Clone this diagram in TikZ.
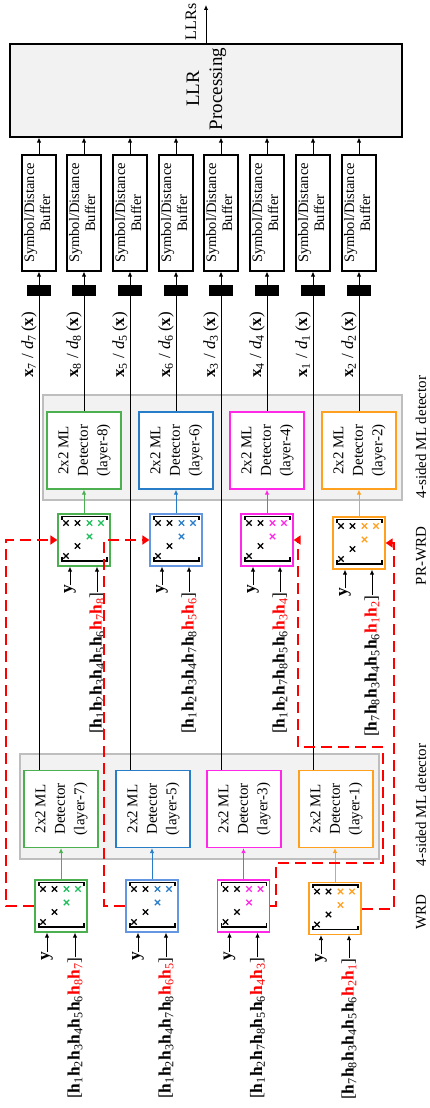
\documentclass[tikz,border=0pt]{standalone}
\usepackage{fontspec}
\setmainfont{Liberation Serif}
\usetikzlibrary{arrows.meta}
\definecolor{cgreen}{RGB}{76,175,80}
\definecolor{cgreenx}{RGB}{30,190,90}
\definecolor{cblue}{RGB}{40,125,200}
\definecolor{cbluel}{RGB}{100,150,225}
\definecolor{cmag}{RGB}{255,40,230}
\definecolor{corange}{RGB}{255,160,30}
\definecolor{cgray}{RGB}{242,242,242}
\definecolor{cgrayd}{RGB}{190,190,190}
\newcommand\hh[1]{\textbf{h}\textsubscript{#1}}
\newcommand\hr[1]{\textcolor{red}{\textbf{h}\textsubscript{#1}}}
\newcommand\xlab[1]{\textbf{x}\textsubscript{#1} / \textit{d}\textsubscript{#1}\,(\textbf{x})}
\newcommand\xmark[3]{\draw[#3, line width=1.1pt] (#1,#2) ++(-2.7,-2.7) -- ++(5.4,5.4) ++(0,-5.4) -- ++(-5.4,5.4);}
\newcommand\drawmat[2]{%
 \begin{scope}[shift={(#1.center)}]
  \draw[line width=1.1pt] (-22,-20.5) -- (-22,-23.5) -- (23,-23.5) -- (23,-20.5);
  \draw[line width=1.1pt] (-22,17) -- (-22,21) -- (23,21) -- (23,17);
  \xmark{-18}{-17}{black}\xmark{-6.5}{-17}{black}\xmark{5.5}{-17}{#2}\xmark{17}{-17}{#2}
  \xmark{5.5}{-3.5}{#2}\xmark{-6.5}{6}{black}\xmark{-18}{16}{black}
 \end{scope}}
\newcommand\dettext[1]{\rotatebox{90}{\begin{tabular}{@{}c@{}}2x2 ML\\Detector\\(layer-#1)\end{tabular}}}
\newcommand\buftext{\rotatebox{90}{\begin{tabular}{@{}c@{}}Symbol/Distance\\Buffer\end{tabular}}}
\begin{document}
\begin{tikzpicture}[x=1pt,y=-1pt,
  arr/.style={-{Latex[length=5pt,width=4.5pt]}, line width=0.9pt},
  ln/.style={line width=0.9pt},
  buf/.style={draw, line width=1.1pt, fill=white, minimum width=34pt, minimum height=116pt, inner sep=0pt, font=\fontsize{14.5}{16}\selectfont},
  blk/.style={fill=black, minimum width=24pt, minimum height=11pt, inner sep=0pt},
  det/.style={draw, line width=1.3pt, fill=white, minimum width=74pt, minimum height=77pt, inner sep=0pt, font=\fontsize{15}{19.5}\selectfont},
  gbox/.style={draw=cgrayd, fill=cgray, line width=1.2pt, minimum width=359pt, minimum height=105pt, inner sep=0pt},
  mat/.style={draw, line width=1.3pt, fill=white, minimum size=52pt, inner sep=0pt},
  rl/.style={rotate=90, inner sep=0pt},
  hlab/.style={rl, anchor=east, font=\fontsize{17.4}{20}\selectfont},
  sidelab/.style={rl, font=\fontsize{15}{18}\selectfont},
  reddash/.style={draw=red, line width=2pt, dash pattern=on 11pt off 6pt},
  redarr/.style={reddash, -{Triangle[length=7pt,width=9pt]}},
]
\useasboundingbox (0,0) rectangle (429,1108);

% LLR processing
\node[draw, line width=1.1pt, fill=cgray, minimum width=392pt, minimum height=93pt, inner sep=0pt] (llr) at (206,90.5) {};
\node[rl, font=\fontsize{19}{23}\selectfont] (llrt) at (206,89) {\begin{tabular}{@{}c@{}}LLR\\Processing\end{tabular}};
\coordinate (llrout) at (206,5);
\draw[arr] (llr.north) -- (llrout);
\node[rl, font=\fontsize{16}{18}\selectfont] (llrs) at (191,22) {LLRs};

% buffers and blocks
\foreach \i/\x/\s in {1/39/7,2/84/8,3/130/5,4/176/6,5/221/3,6/267/4,7/313/1,8/359/2}{
  \node[buf] (buf\i) at (\x,213) {\buftext};
  \node[blk] (blk\i) at (\x,290.5) {};
  \draw[arr] (blk\i.north) -- (buf\i.south);
  \draw[arr] (buf\i.north) -- (buf\i.north |- llr.south);
  \node[rl, anchor=south, font=\fontsize{17}{19}\selectfont] (xl\i) at (\x-2,345) {\xlab{\s}};
}

% gray boxes
\node[gbox] (ug) at (222.5,447.5) {};
\node[gbox] (lg) at (199.5,806.5) {};

% upper detectors
\node[det, draw=cgreen] (ud8) at (84,450.5) {\dettext{8}};
\node[det, draw=cblue] (ud6) at (176,450.5) {\dettext{6}};
\node[det, draw=cmag] (ud4) at (267,450.5) {\dettext{4}};
\node[det, draw=corange] (ud2) at (359,450.5) {\dettext{2}};
% lower detectors
\node[det, draw=cgreen] (ld7) at (61,809) {\dettext{7}};
\node[det, draw=cblue] (ld5) at (153,809) {\dettext{5}};
\node[det, draw=cmag] (ld3) at (244,809) {\dettext{3}};
\node[det, draw=corange] (ld1) at (336,809) {\dettext{1}};

% column lines
\draw[ln] (blk1.south) -- (blk1.south |- ld7.north);
\draw[ln] (blk2.south) -- (blk2.south |- ud8.north);
\draw[ln] (blk3.south) -- (blk3.south |- ld5.north);
\draw[ln] (blk4.south) -- (blk4.south |- ud6.north);
\draw[ln] (blk5.south) -- (blk5.south |- ld3.north);
\draw[ln] (blk6.south) -- (blk6.south |- ud4.north);
\draw[ln] (blk7.south) -- (blk7.south |- ld1.north);
\draw[ln] (blk8.south) -- (blk8.south |- ud2.north);

% PR-WRD matrices
\node[mat, draw=cgreen] (pr8) at (84,540) {};
\node[mat, draw=cbluel] (pr6) at (176,540) {};
\node[mat, draw=cmag] (pr4) at (267,540) {};
\node[mat, draw=corange] (pr2) at (359,543) {};
\drawmat{pr8}{cgreenx}\drawmat{pr6}{cblue}\drawmat{pr4}{cmag}\drawmat{pr2}{corange}
\draw[arr, cgreen] (pr8.north) -- (ud8.south);
\draw[arr, cblue] (pr6.north) -- (ud6.south);
\draw[arr, cmag] (pr4.north) -- (ud4.south);
\draw[arr, corange] (pr2.north) -- (ud2.south);

% WRD matrices
\node[mat, draw=cgreen] (w7) at (61,906) {};
\node[mat, draw=cbluel] (w5) at (152,906) {};
\node[mat, draw=cmag] (w3) at (243.5,906) {};
\node[mat, draw=corange] (w1) at (335,908.5) {};
\drawmat{w7}{cgreenx}\drawmat{w5}{cblue}\drawmat{w3}{cmag}\drawmat{w1}{corange}
\draw[arr, cgreen] (w7.north) -- (w7.north |- ld7.south);
\draw[arr, cblue] (w5.north) -- (w5.north |- ld5.south);
\draw[arr, cmag] (w3.north) -- (w3.north |- ld3.south);
\draw[arr, corange] (w1.north) -- (w1.north |- ld1.south);

% inputs PR-WRD
\node[hlab] (ypr8) at (70,585) {\textbf{y}};
\node[hlab] (hpr8) at (97,592) {[\hh1\hh2\hh3\hh4\hh5\hh6\hr7\hr8]};
\node[hlab] (ypr6) at (162,585) {\textbf{y}};
\node[hlab] (hpr6) at (189,592) {[\hh1\hh2\hh3\hh4\hh7\hh8\hr5\hr6]};
\node[hlab] (ypr4) at (253,585) {\textbf{y}};
\node[hlab] (hpr4) at (280,592) {[\hh1\hh2\hh7\hh8\hh5\hh6\hr3\hr4]};
\node[hlab] (ypr2) at (345,588) {\textbf{y}};
\node[hlab] (hpr2) at (372,595) {[\hh7\hh8\hh3\hh4\hh5\hh6\hr1\hr2]};
\foreach \n/\m in {ypr8/pr8,hpr8/pr8,ypr6/pr6,hpr6/pr6,ypr4/pr4,hpr4/pr4,ypr2/pr2,hpr2/pr2}
  \draw[arr] (\n.east) -- (\n.east |- \m.south);

% inputs WRD
\node[hlab] (yw7) at (47,952) {\textbf{y}};
\node[hlab] (hw7) at (75,957) {[\hh1\hh2\hh3\hh4\hh5\hh6\hr8\hr7]};
\node[hlab] (yw5) at (138,952) {\textbf{y}};
\node[hlab] (hw5) at (166,957) {[\hh1\hh2\hh3\hh4\hh7\hh8\hr6\hr5]};
\node[hlab] (yw3) at (229.5,952) {\textbf{y}};
\node[hlab] (hw3) at (257.5,957) {[\hh1\hh2\hh7\hh8\hh5\hh6\hr4\hr3]};
\node[hlab] (yw1) at (321,954) {\textbf{y}};
\node[hlab] (hw1) at (349,958) {[\hh7\hh8\hh3\hh4\hh5\hh6\hr2\hr1]};
\foreach \n/\m in {yw7/w7,hw7/w7,yw5/w5,hw5/w5,yw3/w3,hw3/w3,yw1/w1,hw1/w1}
  \draw[arr] (\n.east) -- (\n.east |- \m.south);

% red dashed feedback
\draw[redarr] (w7.west) -- ++(-28,0) |- (pr8.west);
\draw[redarr] (w5.west) -- ++(-21,0) |- (pr6.west);
\draw[redarr] (w3.east) -- ++(6,0) |- (383,863) |- (298,747) |- (pr4.east);
\draw[redarr] (w1.east) -- ++(32,0) |- (pr2.east);

% side labels
\node[sidelab] (lab4u) at (421,437) {4-sided ML detector};
\node[sidelab] (labpr) at (421,556) {PR-WRD};
\node[sidelab] (lab4l) at (421,805) {4-sided ML detector};
\node[sidelab] (labw) at (421,912) {WRD};
\end{tikzpicture}
\end{document}
